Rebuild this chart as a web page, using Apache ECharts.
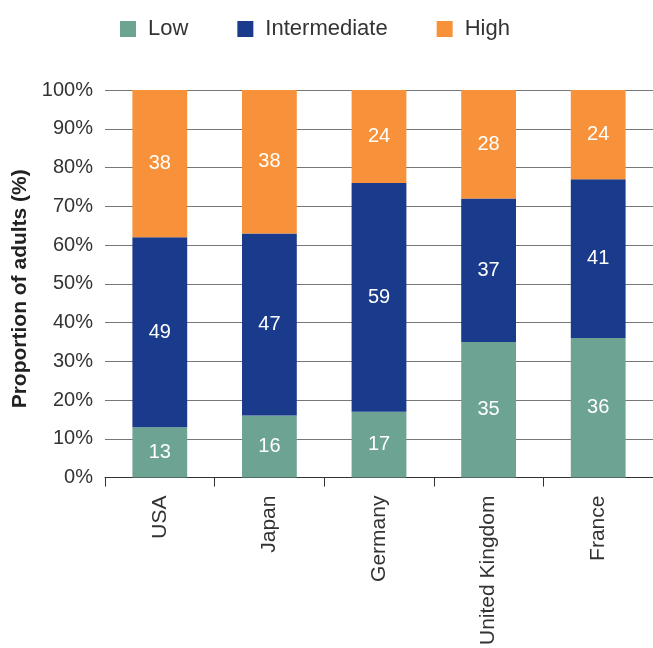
<!DOCTYPE html>
<html>
<head>
<meta charset="utf-8">
<script src="https://cdn.jsdelivr.net/npm/echarts@6/dist/echarts.min.js"></script>
<style>
  html, body { margin: 0; padding: 0; background: #fff; }
  #chart { width: 653px; height: 648px; }
</style>
</head>
<body>
<div id="chart"></div>
<script>
const countries = ['USA', 'Japan', 'Germany', 'United Kingdom', 'France']
const low = [13, 16, 17, 35, 36]
const intermediate = [49, 47, 59, 37, 41]
const high = [38, 38, 24, 28, 24]
const yTicks = [0, 10, 20, 30, 40, 50, 60, 70, 80, 90, 100]

const font = 'Liberation Sans, Arial, sans-serif'
const chart = echarts.init(document.getElementById('chart'))

function barSeries(name, data, color) {
  return {
    name: name,
    type: 'bar',
    stack: 'total',
    data: data,
    barWidth: '50%',
    itemStyle: { color: color },
    label: {
      show: true,
      position: 'inside',
      color: '#fff',
      fontFamily: font,
      fontSize: 20
    }
  }
}

chart.setOption({
  animation: false,
  legend: {
    top: 13,
    left: 115,
    itemWidth: 16,
    itemHeight: 16,
    itemGap: 49,
    icon: 'rect',
    textStyle: { fontFamily: font, fontSize: 22, color: '#333', padding: [0, 0, 0, 7] }
  },
  grid: { left: 105, right: 0, top: 90, bottom: 169 },
  xAxis: {
    type: 'category',
    data: countries,
    axisLine: { lineStyle: { color: '#333', width: 1 } },
    axisTick: { show: true, length: 9, lineStyle: { color: '#333' } },
    axisLabel: { rotate: 90, margin: 18, fontFamily: font, fontSize: 21, color: '#333' }
  },
  yAxis: {
    type: 'value',
    min: yTicks[0],
    max: yTicks[yTicks.length - 1],
    interval: 10,
    name: 'Proportion of adults (%)',
    nameLocation: 'middle',
    nameGap: 72,
    nameTextStyle: { fontFamily: font, fontSize: 21, fontWeight: 'bold', color: '#222', padding: [0, 10, 0, 0] },
    axisLine: { show: false },
    axisTick: { show: false },
    axisLabel: { margin: 12, fontFamily: font, fontSize: 20, color: '#333', formatter: '{value}%' },
    splitLine: { lineStyle: { color: '#777', width: 1 } }
  },
  series: [
    barSeries('Low', low, '#6da393'),
    barSeries('Intermediate', intermediate, '#1a3a8c'),
    barSeries('High', high, '#f7923a')
  ]
})
</script>
</body>
</html>
